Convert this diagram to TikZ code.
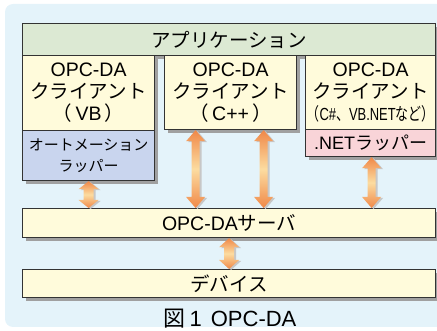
\documentclass[tikz,border=0pt]{standalone}
\usepackage{fontspec}
\usepackage{graphicx}
\setmainfont{Liberation Sans}
\newfontfamily\jp{Noto Sans CJK JP}
\usetikzlibrary{shadows,calc}
\newcommand\J[1]{{\jp #1}}

\definecolor{bgblue}{HTML}{E4F3FA}
\definecolor{appgreen}{HTML}{DCE9D3}
\definecolor{cream}{HTML}{FFFBDB}
\definecolor{autoblue}{HTML}{C9D5EE}
\definecolor{wrappink}{HTML}{F9D4D8}
\definecolor{edge}{HTML}{333333}
\definecolor{boxshade}{HTML}{A0A0A0}
\definecolor{arrowdark}{HTML}{F08848}
\definecolor{arrowlight}{HTML}{FCDCA0}

% outline of a double-headed fat arrow between \p1 (top) and \p2 (bottom)
\newcommand\arrowshape[3]{%
  (\x1,\y1) -- (\x1+#2,\y1-#3) -- (\x1+#1,\y1-#3) -- (\x1+#1,\y2+#3) -- (\x1+#2,\y2+#3)
  -- (\x1,\y2) -- (\x1-#2,\y2+#3) -- (\x1-#1,\y2+#3) -- (\x1-#1,\y1-#3) -- (\x1-#2,\y1-#3) -- cycle}
% #1 top point, #2 bottom point, #3 half shaft, #4 half head, #5 head length
\newcommand\fatarrow[5]{%
  \fill[arrowshadow] let \p1=($(#1)+(2,-1)$), \p2=($(#2)+(2,-1)$) in \arrowshape{#3}{#4}{#5};
  \shade[top color=arrowdark, bottom color=arrowdark, middle color=arrowlight]
    let \p1=(#1), \p2=(#2) in \arrowshape{#3}{#4}{#5};
}

\begin{document}
\begin{tikzpicture}[x=1pt,y=1pt,
  arrowshadow/.style={fill=black!22},
  box/.style={draw=edge, line width=1.2pt, anchor=north west, inner sep=0pt, align=center,
    drop shadow={shadow xshift=3pt, shadow yshift=-3pt, fill=boxshade, opacity=1}},
  big/.style={font=\fontsize{19.5}{22}\selectfont}]
\useasboundingbox (0,0) rectangle (437,-331);
\clip (0,0) rectangle (437,-331);

% panel
\fill[bgblue, rounded corners=8pt] (5,-4) rectangle (460,-327);

% application layer
\node[box, fill=appgreen, minimum width=413, minimum height=32, big] (app) at (22,-23) {\J{アプリケーション}};

% clients
\node[box, fill=cream, minimum width=132, minimum height=75, big] (vb) at (22,-55)
  {OPC-DA\\\J{クライアント}\\\J{（}\,VB\,\J{）}};
\node[box, fill=autoblue, minimum width=132, minimum height=50, font=\fontsize{15}{21}\selectfont] (auto) at (22,-130)
  {\J{オートメーション}\\\J{ラッパー}};

\node[box, fill=cream, minimum width=132, minimum height=74, big] (cpp) at (164,-55)
  {OPC-DA\\\J{クライアント}\\\J{（}\,C++\,\J{）}};

\node[box, fill=cream, minimum width=130, minimum height=74, big] (cs) at (305,-55)
  {OPC-DA\\\J{クライアント}\\\resizebox{128pt}{\height}{\fontsize{17.5}{21}\selectfont\J{（}C\#\J{、}VB.NET\J{など）}}};
\node[box, fill=wrappink, minimum width=130, minimum height=27, font=\fontsize{18}{21}\selectfont] (net) at (305,-129)
  {.NET\J{ラッパー}};

% server and device
\node[box, fill=cream, minimum width=413, minimum height=29, big] (server) at (22,-208) {OPC-DA\J{サーバ}};
\node[box, fill=cream, minimum width=413, minimum height=28, big] (device) at (22,-269) {\J{デバイス}};

% arrow end points
\coordinate (cppL) at ($(cpp.south)+(-35,0)$);
\coordinate (cppR) at ($(cpp.south)+(33,0)$);
\coordinate (netB) at ($(net.south)+(1,0)$);

% connectors
\fatarrow{auto.south}{auto.south |- server.north}{5pt}{10pt}{8pt}
\fatarrow{cppL}{cppL |- server.north}{4pt}{9.5pt}{11pt}
\fatarrow{cppR}{cppR |- server.north}{4pt}{9.5pt}{11pt}
\fatarrow{netB}{netB |- server.north}{4pt}{9.5pt}{11pt}
\fatarrow{server.south}{device.north}{5pt}{10pt}{9pt}

% caption
\node[font=\fontsize{22}{24}\selectfont] (caption) at (230,-319) {\J{図}\hspace{4pt}1\hspace{9pt}OPC-DA};
\end{tikzpicture}
\end{document}
